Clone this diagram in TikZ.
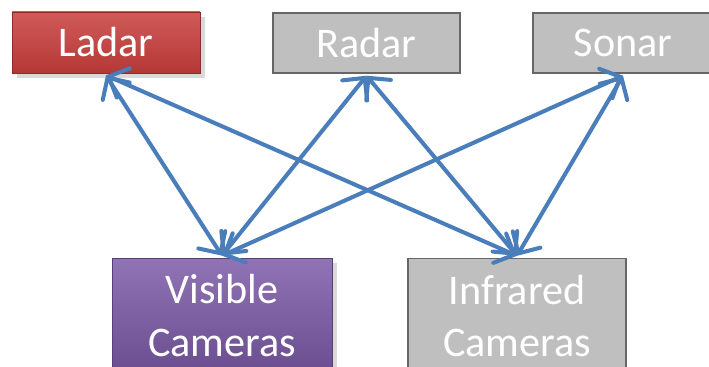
\documentclass[tikz,border=0pt]{standalone}
\usepackage{fontspec}
\setmainfont{Carlito}
\usetikzlibrary{arrows.meta,shadows}

\definecolor{linkblue}{RGB}{74,126,187}
\definecolor{ladarred}{RGB}{200,62,60}
\definecolor{camviolet}{RGB}{124,91,168}
\definecolor{offgray}{RGB}{191,191,191}

\tikzset{
  sensor/.style={rectangle, minimum height=1.2cm, inner sep=0pt, align=center,
    text=white, font=\fontsize{24}{30}\selectfont},
  activered/.style={sensor, draw=ladarred!70!black, line width=0.4pt,
    top color=ladarred!85!white, bottom color=ladarred!90!black,
    drop shadow={shadow xshift=3pt, shadow yshift=-3pt, opacity=0.3}},
  activeviolet/.style={sensor, draw=camviolet!70!black, line width=0.4pt,
    top color=camviolet!85!white, bottom color=camviolet!85!black,
    drop shadow={shadow xshift=3pt, shadow yshift=-3pt, opacity=0.3}},
  inactive/.style={sensor, fill=offgray, draw=gray!80!black, line width=0.8pt},
  link/.style={draw=linkblue, line width=2.3pt, line cap=round,
    {Straight Barb[length=3.2mm, width=6.4mm, line cap=round]}-{Straight Barb[length=3.2mm, width=6.4mm, line cap=round]}}
}

\begin{document}
\begin{tikzpicture}[x=0.02cm, y=-0.02cm]
  \useasboundingbox (0,0) rectangle (709,367);
  \begin{scope}
  \clip (0,0) rectangle (709,367);

  % Sensoren oben
  \node[activered, minimum width=3.76cm, minimum height=1.22cm] (ladar) at (106,42.5) {Ladar};
  \node[inactive, minimum width=3.74cm] (radar) at (366.5,43) {Radar};
  \node[inactive, minimum width=3.6cm] (sonar) at (623,43) {Sonar};

  % Kameras unten
  \node[activeviolet, minimum width=4.4cm, minimum height=2.3cm] (visible) at (222,315.5) {Visible\\Cameras};
  \node[inactive, minimum width=4.36cm, minimum height=2.3cm] (infrared) at (517,316) {Infrared\\Cameras};

  % Verbindungen
  \draw[link] ([yshift=-0.04cm]ladar.south) -- ([yshift=0.04cm]visible.north);
  \draw[link] ([yshift=-0.04cm]ladar.south) -- ([yshift=0.04cm]infrared.north);
  \draw[link] ([yshift=-0.04cm]radar.south) -- ([yshift=0.04cm]visible.north);
  \draw[link] ([yshift=-0.04cm]radar.south) -- ([yshift=0.04cm]infrared.north);
  \draw[link] ([yshift=-0.04cm]sonar.south) -- ([yshift=0.04cm]visible.north);
  \draw[link] ([yshift=-0.04cm]sonar.south) -- ([yshift=0.04cm]infrared.north);
  \end{scope}
\end{tikzpicture}
\end{document}
